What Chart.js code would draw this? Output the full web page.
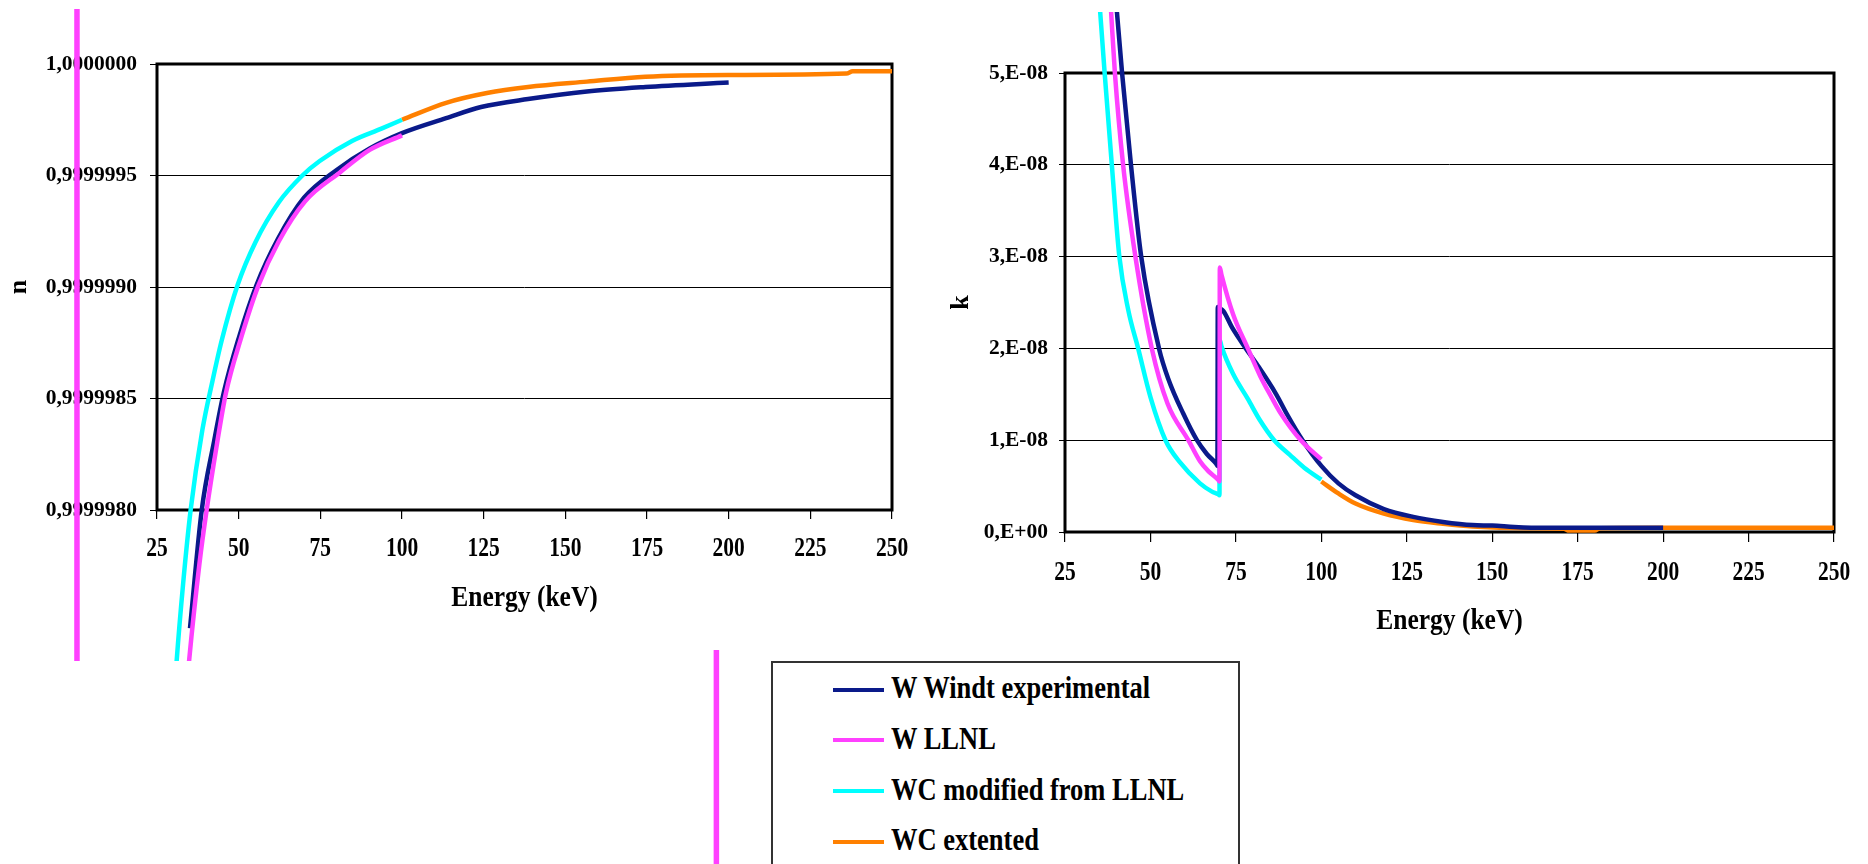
<!DOCTYPE html>
<html>
<head>
<meta charset="utf-8">
<title>n and k of W / WC</title>
<script src="https://cdn.jsdelivr.net/npm/chart.js@4.4.1/dist/chart.umd.min.js"></script>
<style>
  html, body { margin: 0; padding: 0; background: #fff; }
  body { width: 1868px; height: 864px; position: relative; overflow: hidden; }
  canvas { position: absolute; }
  #n-chart { left: 0; top: 9px; }
  #k-chart { left: 700px; top: 12px; }
  #legend {
    position: absolute; left: 771px; top: 661px; width: 469px; height: 230px;
    box-sizing: border-box; border: 2px solid #333; background: #fff;
  }
  .item { position: absolute; left: 60px; height: 30px; display: flex; align-items: center; }
  .swatch { width: 51px; height: 4px; margin-top: 5px; }
  .label {
    margin-left: 7px; font: bold 26.5px "Liberation Serif", "Times New Roman", serif;
    line-height: 30px; white-space: nowrap; transform: scaleY(1.2); transform-origin: left center;
  }
</style>
</head>
<body>
<canvas id="n-chart" width="930" height="652"></canvas>
<canvas id="k-chart" width="1168" height="852"></canvas>
<div id="legend"></div>
<script>
// axes
const energyTicks = [25, 50, 75, 100, 125, 150, 175, 200, 225, 250];
const energyTickLabels = ['25', '50', '75', '100', '125', '150', '175', '200', '225', '250'];
const nTicks = [0.999998, 0.9999985, 0.999999, 0.9999995, 1];
const nTickLabels = ['0,9999980', '0,9999985', '0,9999990', '0,9999995', '1,0000000'];
const kTicks = [0, 1e-8, 2e-8, 3e-8, 4e-8, 5e-8];
const kTickLabels = ['0,E+00', '1,E-08', '2,E-08', '3,E-08', '4,E-08', '5,E-08'];

// legend
const seriesNames = ['W Windt experimental', 'W LLNL', 'WC modified from LLNL', 'WC extented'];
const seriesColors = ['#0a1a8a', '#ff40ff', '#00ffff', '#ff8000'];

// n (refractive index, real part)
const nWindtE = [35.1, 38.7, 42.5, 45.5, 50, 55.5, 62, 70, 80, 90, 100, 113.5, 124.2, 138.6, 156.6, 174.5, 200];
const nWindtN = [0.99999747, 0.999998, 0.99999831, 0.99999853, 0.99999877, 0.99999901, 0.999999215, 0.9999994,
  0.999999525, 0.99999962, 0.99999969, 0.999999757, 0.999999807, 0.999999843, 0.999999877, 0.999999897, 0.999999917];
const nLlnlE = [33.8, 34.8, 38.0, 40.2, 43.4, 46.1, 50.6, 56.0, 62.3, 70.4, 81.1, 90.1, 100];
const nLlnlN = [0.99999715, 0.99999732, 0.99999776, 0.999998, 0.9999983, 0.999998525, 0.999998765, 0.999999005,
  0.999999205, 0.999999385, 0.999999515, 0.999999615, 0.99999968];
const nWcModE = [30, 31, 33, 35.3, 38.9, 42, 44.8, 49.7, 55.1, 62.3, 69.5, 74.8, 84.7, 93.7, 100];
const nWcModN = [0.9999971, 0.99999732, 0.99999767, 0.999998, 0.99999836, 0.99999858, 0.99999876, 0.99999901,
  0.9999992, 0.99999938, 0.9999995, 0.999999565, 0.999999655, 0.99999971, 0.99999975];
const nWcExtE = [100, 113.5, 126, 138.6, 156.6, 174.5, 199.7, 236, 238, 250];
const nWcExtN = [0.99999975, 0.999999826, 0.99999987, 0.999999897, 0.999999921, 0.999999943, 0.999999951,
  0.999999957, 0.999999967, 0.999999967];
const nStrayE = [0.5, 0.5];
const nStrayN = [1.0000004, 0.999996];

// k (extinction coefficient)
const kWindtE = [39.5, 40.2, 41.7, 44.3, 47.3, 52.5, 55.2, 59.6, 63.6, 66.5, 69.3, 69.6, 69.7, 70.1, 71.3, 74.0,
  77.9, 81.1, 86.8, 90, 94.5, 100, 105, 110, 118.3, 126.9, 135.6, 144.2, 150, 156.4, 165, 200];
const kWindtK = [6.0e-8, 5.66e-8, 5.0e-8, 4.0e-8, 3.0e-8, 2.0e-8, 1.67e-8, 1.29e-8, 1.0e-8, 0.85e-8, 0.74e-8, 0.72e-8,
  2.45e-8, 2.44e-8, 2.41e-8, 2.22e-8, 2.0e-8, 1.83e-8, 1.5e-8, 1.28e-8, 1.0e-8, 0.72e-8, 0.53e-8, 0.40e-8,
  0.25e-8, 0.165e-8, 0.11e-8, 0.075e-8, 0.07e-8, 0.055e-8, 0.045e-8, 0.045e-8];
const kLlnlE = [37.8, 38.5, 39.6, 42.0, 45.6, 50.4, 55.0, 61.1, 64.5, 67.0, 69.8, 70.2, 70.3, 70.8, 74.2, 78.5,
  82.1, 85.4, 88.0, 94.0, 100];
const kLlnlK = [6.1e-8, 5.66e-8, 5.0e-8, 4.0e-8, 3.0e-8, 2.0e-8, 1.4e-8, 1.0e-8, 0.77e-8, 0.66e-8, 0.57e-8, 0.55e-8,
  2.88e-8, 2.8e-8, 2.37e-8, 2.0e-8, 1.7e-8, 1.47e-8, 1.3e-8, 1.0e-8, 0.79e-8];
const kWcModE = [34.6, 35.3, 36.6, 38.7, 40.9, 43.5, 46.4, 50.0, 54.4, 58.6, 64.5, 68.0, 69.9, 70.2, 70.3, 70.8,
  74.2, 78.5, 82.0, 86.2, 90.8, 95.0, 100];
const kWcModK = [6.05e-8, 5.66e-8, 5.0e-8, 4.0e-8, 3.0e-8, 2.42e-8, 2.0e-8, 1.47e-8, 1.0e-8, 0.76e-8, 0.53e-8,
  0.44e-8, 0.41e-8, 0.40e-8, 2.09e-8, 2.02e-8, 1.72e-8, 1.45e-8, 1.22e-8, 1.0e-8, 0.84e-8, 0.70e-8, 0.57e-8];
const kWcExtE = [100, 105, 110, 118.3, 126.9, 135.6, 144.2, 160, 171, 172.5, 180, 181.5, 200, 250];
const kWcExtK = [0.55e-8, 0.42e-8, 0.31e-8, 0.20e-8, 0.13e-8, 0.09e-8, 0.06e-8, 0.04e-8, 0.035e-8, 0.015e-8,
  0.015e-8, 0.04e-8, 0.045e-8, 0.045e-8];
const kStrayE = [-77, -77];
const kStrayK = [-1.285e-8, -5e-8];

const fontFamily = '"Liberation Serif", "Times New Roman", serif';
Chart.defaults.font.family = fontFamily;
Chart.defaults.font.weight = 'bold';
Chart.defaults.font.size = 21.5;
Chart.defaults.color = '#000';

function points(xs, ys) {
  return xs.map((x, i) => ({ x: x, y: ys[i] }));
}

function lineSet(label, color, xs, ys, width) {
  return {
    label: label,
    data: points(xs, ys),
    borderColor: color,
    backgroundColor: color,
    borderWidth: width || 4.5,
    pointRadius: 0,
    cubicInterpolationMode: 'monotone',
    capBezierPoints: false,
    clip: false,
    fill: false
  };
}

// black box round the plot area
const plotFrame = {
  id: 'plotFrame',
  beforeDatasetsDraw(chart) {
    const { ctx, chartArea: a } = chart;
    ctx.save();
    ctx.strokeStyle = '#000';
    ctx.lineWidth = 3;
    ctx.strokeRect(a.left, a.top, a.right - a.left, a.bottom - a.top);
    ctx.restore();
  }
};

function stretchedText(ctx, text, x, y, sy) {
  ctx.save();
  ctx.translate(x, y);
  ctx.scale(1, sy);
  ctx.fillText(text, 0, 0);
  ctx.restore();
}

// x tick labels and x title are drawn a bit taller than wide, like the original
const axisText = {
  id: 'axisText',
  afterDraw(chart, args, opts) {
    const { ctx, chartArea: a } = chart;
    const xScale = chart.scales.x;
    ctx.save();
    ctx.fillStyle = '#000';
    ctx.textAlign = 'center';
    ctx.textBaseline = 'middle';
    ctx.font = 'bold ' + opts.tickSize + 'px ' + fontFamily;
    xScale.ticks.forEach((t, i) => {
      stretchedText(ctx, energyTickLabels[i], xScale.getPixelForValue(t.value), a.bottom + opts.tickGap, opts.tickStretch);
    });
    ctx.font = 'bold ' + opts.titleSize + 'px ' + fontFamily;
    stretchedText(ctx, opts.title, (a.left + a.right) / 2, a.bottom + opts.titleGap, opts.titleStretch);
    ctx.restore();
  }
};

function makeChart(id, cfg) {
  return new Chart(document.getElementById(id), {
    type: 'line',
    data: { datasets: cfg.datasets },
    options: {
      responsive: false,
      animation: false,
      events: [],
      devicePixelRatio: 1,
      layout: { padding: cfg.padding },
      plugins: {
        legend: { display: false },
        tooltip: { enabled: false },
        axisText: cfg.axisText
      },
      scales: {
        x: {
          type: 'linear',
          min: 25,
          max: 250,
          afterFit: s => { s.height = cfg.xHeight; },
          afterBuildTicks: s => { s.ticks = energyTicks.map(v => ({ value: v })); },
          ticks: { display: false },
          grid: { drawOnChartArea: false, color: '#000', lineWidth: 1.2, tickLength: cfg.xTickLength },
          border: { display: false }
        },
        y: {
          type: 'linear',
          min: cfg.yMin,
          max: cfg.yMax,
          afterFit: s => { s.width = cfg.yWidth; },
          afterBuildTicks: s => { s.ticks = cfg.yTicks.map(v => ({ value: v })); },
          ticks: { callback: (v, i) => cfg.yTickLabels[i], padding: cfg.yTickPadding },
          grid: { color: '#000', lineWidth: 1, tickLength: cfg.yTickLength },
          border: { display: false },
          title: {
            display: true,
            text: cfg.yTitle,
            font: { size: 26, weight: 'bold' },
            padding: { top: cfg.yTitlePad, bottom: 0 }
          }
        }
      }
    },
    plugins: [plotFrame, axisText]
  });
}

// draw order: first dataset on top
makeChart('n-chart', {
  datasets: [
    lineSet(seriesNames[1], seriesColors[1], nLlnlE, nLlnlN),
    lineSet(seriesNames[0], seriesColors[0], nWindtE, nWindtN),
    lineSet(seriesNames[2], seriesColors[2], nWcModE, nWcModN),
    lineSet(seriesNames[3], seriesColors[3], nWcExtE, nWcExtN),
    lineSet('', seriesColors[1], nStrayE, nStrayN, 5.5)
  ],
  padding: { left: 0, top: 55, right: 38, bottom: 0 },
  xHeight: 151,
  xTickLength: 9,
  yWidth: 157,
  yMin: 0.999998,
  yMax: 1,
  yTicks: nTicks,
  yTickLabels: nTickLabels,
  yTickLength: 7,
  yTickPadding: 13,
  yTitle: 'n',
  yTitlePad: 4,
  axisText: { tickSize: 21.5, tickGap: 39, tickStretch: 1.25, title: 'Energy (keV)', titleSize: 25.5, titleGap: 88.5, titleStretch: 1.15 }
});

makeChart('k-chart', {
  datasets: [
    lineSet(seriesNames[1], seriesColors[1], kLlnlE, kLlnlK),
    lineSet(seriesNames[0], seriesColors[0], kWindtE, kWindtK),
    lineSet(seriesNames[2], seriesColors[2], kWcModE, kWcModK),
    lineSet(seriesNames[3], seriesColors[3], kWcExtE, kWcExtK),
    lineSet('', seriesColors[1], kStrayE, kStrayK, 5.5)
  ],
  padding: { left: 246, top: 61, right: 34, bottom: 0 },
  xHeight: 332,
  xTickLength: 10,
  yWidth: 119,
  yMin: 0,
  yMax: 5e-8,
  yTicks: kTicks,
  yTickLabels: kTickLabels,
  yTickLength: 6,
  yTickPadding: 11,
  yTitle: 'k',
  yTitlePad: 0,
  axisText: { tickSize: 21.5, tickGap: 41.5, tickStretch: 1.25, title: 'Energy (keV)', titleSize: 25.5, titleGap: 89, titleStretch: 1.15 }
});

// shared legend box under the charts
const legend = document.getElementById('legend');
seriesNames.forEach((name, i) => {
  const item = document.createElement('div');
  item.className = 'item';
  item.style.top = (9 + i * 50.8) + 'px';
  const swatch = document.createElement('div');
  swatch.className = 'swatch';
  swatch.style.background = seriesColors[i];
  const label = document.createElement('div');
  label.className = 'label';
  label.textContent = name;
  item.appendChild(swatch);
  item.appendChild(label);
  legend.appendChild(item);
});
</script>
</body>
</html>
